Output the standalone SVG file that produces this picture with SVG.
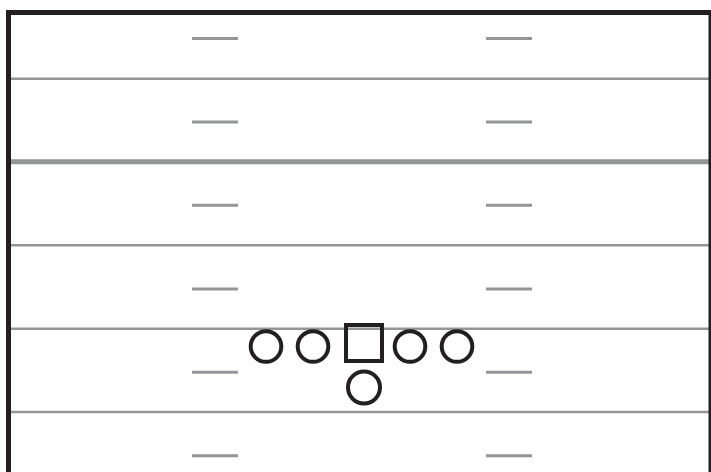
<svg xmlns="http://www.w3.org/2000/svg" width="711" height="472" viewBox="0 0 711 472">
<style>
.yl{stroke:#939598;stroke-width:2.6;fill:none}
.hash{stroke:#939598;stroke-width:3;fill:none}
.pl{stroke:#231f20;stroke-width:4;fill:none}
</style>
<rect width="711" height="472" fill="#ffffff"/>
<g id="field-lines">
<line class="yl" x1="11" y1="78.7" x2="709" y2="78.7"/>
<line class="yl" x1="11" y1="161.8" x2="709" y2="161.8" style="stroke-width:5"/>
<line class="yl" x1="11" y1="245.3" x2="709" y2="245.3"/>
<line class="yl" x1="11" y1="328.7" x2="709" y2="328.7"/>
<line class="yl" x1="11" y1="412" x2="709" y2="412"/>
</g>
<g id="hash-marks">
<line class="hash" x1="192" y1="38.6" x2="238" y2="38.6"/>
<line class="hash" x1="486" y1="38.6" x2="532" y2="38.6"/>
<line class="hash" x1="192" y1="122" x2="238" y2="122"/>
<line class="hash" x1="486" y1="122" x2="532" y2="122"/>
<line class="hash" x1="192" y1="205.3" x2="238" y2="205.3"/>
<line class="hash" x1="486" y1="205.3" x2="532" y2="205.3"/>
<line class="hash" x1="192" y1="289" x2="238" y2="289"/>
<line class="hash" x1="486" y1="289" x2="532" y2="289"/>
<line class="hash" x1="192" y1="372.3" x2="238" y2="372.3"/>
<line class="hash" x1="486" y1="372.3" x2="532" y2="372.3"/>
<line class="hash" x1="192" y1="455.7" x2="238" y2="455.7"/>
<line class="hash" x1="486" y1="455.7" x2="532" y2="455.7"/>
</g>
<g id="border">
<rect x="8.5" y="12.5" width="702.5" height="470" fill="none" stroke="#231f20" stroke-width="5"/>
</g>
<g id="player-1"><circle class="pl" cx="266" cy="346.5" r="15.3"/></g>
<g id="player-2"><circle class="pl" cx="313" cy="346.5" r="15.3"/></g>
<g id="center"><rect class="pl" x="346" y="325" width="36" height="36"/></g>
<g id="player-4"><circle class="pl" cx="410" cy="346.5" r="15.3"/></g>
<g id="player-5"><circle class="pl" cx="457" cy="346.5" r="15.3"/></g>
<g id="player-6"><circle class="pl" cx="364" cy="387.5" r="16"/></g>
</svg>
